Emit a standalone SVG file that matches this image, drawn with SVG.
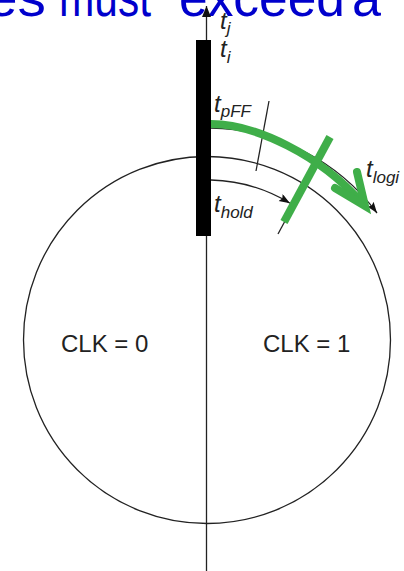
<svg xmlns="http://www.w3.org/2000/svg" width="404" height="571" viewBox="0 0 404 571">
<defs>
<style>
.ln{fill:none;stroke:#222;stroke-width:1.3}
.lbl{font-family:"Liberation Sans",Arial,sans-serif;font-size:24px;fill:#222}
.t{font-family:"Liberation Sans",Arial,sans-serif;font-style:italic;font-size:24px;fill:#222}
.sub{font-size:17px}
.ttl{font-family:"Liberation Sans",Arial,sans-serif;font-size:54px;fill:#0000cc}
.grn{fill:none;stroke:#3fae49;stroke-width:8}
</style>
<marker id="ah" markerUnits="userSpaceOnUse" markerWidth="12" markerHeight="10" refX="11" refY="4" orient="auto">
<path d="M0,0 L11,4 L0,8 L2,4 Z" fill="#111"/>
</marker>
<marker id="ahup" markerUnits="userSpaceOnUse" markerWidth="12" markerHeight="10" refX="11" refY="4.5" orient="auto">
<path d="M0,0 L11,4.5 L0,9 Z" fill="#111"/>
</marker>
</defs>
<rect width="404" height="571" fill="#fff"/>
<g id="title">
<text x="-14" y="16" class="ttl" textLength="60" lengthAdjust="spacingAndGlyphs">es</text>
<text x="59" y="16" class="ttl" textLength="92" lengthAdjust="spacingAndGlyphs">must</text>
<text x="179" y="16" class="ttl" textLength="166" lengthAdjust="spacingAndGlyphs">exceed</text>
<text x="352" y="16" class="ttl" textLength="29" lengthAdjust="spacingAndGlyphs">a</text>
</g>
<g id="clock-circle">
<circle cx="207" cy="340" r="183.5" class="ln"/>
</g>
<g id="connectors">
<line x1="206.5" y1="571" x2="206.5" y2="6" class="ln" stroke-width="1.5" marker-end="url(#ahup)"/>
<path d="M211,180 A160,160 0 0 1 290,203.2" class="ln" marker-end="url(#ah)"/>
<path d="M211,128 A212,212 0 0 1 377,213" class="ln" marker-end="url(#ah)"/>
<line x1="269" y1="101" x2="256" y2="171" class="ln"/>
<line x1="278" y1="234" x2="305" y2="184" class="ln"/>
</g>
<g id="register-bar">
<rect x="196" y="40" width="15" height="196" fill="#000"/>
</g>
<g id="green-mark">
<path d="M211,124 C255,124 320,155 362,203" class="grn"/>
<polyline points="335,188 365,206 357,172" class="grn" stroke-linecap="round" stroke-linejoin="miter"/>
<line x1="330" y1="137" x2="284" y2="222" class="grn" stroke-width="7"/>
</g>
<g id="labels">
<text x="220" y="29" class="t">t<tspan class="sub" dy="5">j</tspan></text>
<text x="220" y="57" class="t">t<tspan class="sub" dy="6">i</tspan></text>
<text x="214" y="112" class="t">t<tspan class="sub" dy="5">pFF</tspan></text>
<text x="214" y="212" class="t">t<tspan class="sub" dy="6">hold</tspan></text>
<text x="366" y="177" class="t">t<tspan class="sub" dy="6">logi</tspan></text>
<text x="61" y="352" class="lbl">CLK = 0</text>
<text x="263" y="352" class="lbl">CLK = 1</text>
</g>
</svg>
